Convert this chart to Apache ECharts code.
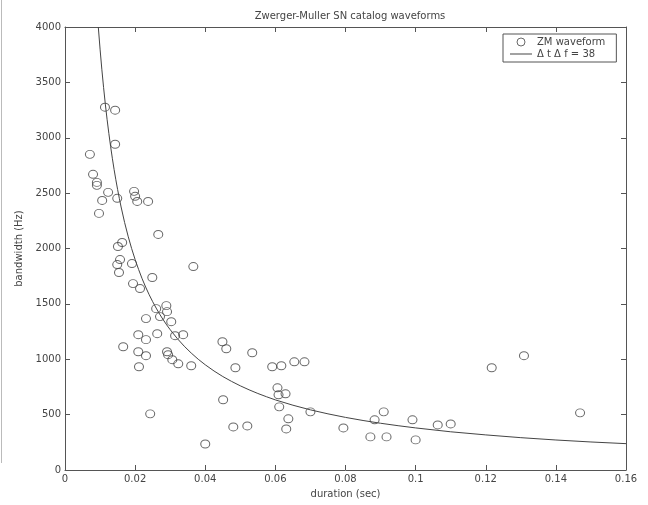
<!DOCTYPE html>
<html>
<head>
<meta charset="utf-8">
<script src="https://cdn.jsdelivr.net/npm/echarts@6/dist/echarts.min.js"></script>
<style>html,body{margin:0;padding:0;background:#fff;}#c{width:648px;height:505px;}</style>
</head>
<body>
<div id="c"></div>
<script>
// ZM waveform measurements: duration (sec), bandwidth (Hz)
const durations = [0.0071,0.0080,0.0091,0.0091,0.0097,0.0106,0.0114,0.0143,0.0143,0.0123,
  0.0149,0.0197,0.0200,0.0206,0.0237,0.0266,0.0151,0.0163,0.0157,0.0149,
  0.0154,0.0191,0.0366,0.0194,0.0214,0.0249,0.0260,0.0289,0.0291,0.0271,
  0.0231,0.0303,0.0209,0.0231,0.0263,0.0314,0.0337,0.0166,0.0209,0.0231,
  0.0291,0.0294,0.0306,0.0323,0.0360,0.0211,0.0449,0.0460,0.0534,0.0486,
  0.0451,0.0243,0.0480,0.0520,0.0400,0.0591,0.0617,0.0654,0.0683,0.0606,
  0.0609,0.0629,0.0611,0.0700,0.0637,0.0631,0.0794,0.0871,0.0917,0.0883,
  0.0909,0.0991,0.1000,0.1063,0.1100,0.1217,0.1309,0.1469];
const bandwidths = [2850,2670,2597,2570,2317,2434,3276,3249,2941,2507,
  2453,2516,2471,2425,2425,2127,2018,2054,1900,1855,
  1783,1864,1837,1683,1638,1738,1457,1484,1430,1385,
  1367,1339,1222,1177,1231,1213,1222,1113,1068,1032,
  1068,1041,996,959,941,932,1158,1095,1059,923,
  634,507,389,398,235,932,941,977,977,742,
  679,688,570,525,462,371,380,299,299,453,
  525,453,272,407,416,923,1032,516];
// reference curve Δt·Δf = 38
const curveDur = [0.0095,0.0100,0.0105,0.0110,0.0115,0.0120,0.0125,0.0130,0.0135,0.0140,
  0.0145,0.0150,0.0155,0.0160,0.0170,0.0180,0.0190,0.0200,0.0210,0.0220,
  0.0230,0.0240,0.0250,0.0260,0.0270,0.0280,0.0290,0.0300,0.0320,0.0340,
  0.0360,0.0380,0.0400,0.0425,0.0450,0.0475,0.0500,0.0525,0.0550,0.0575,
  0.0600,0.0650,0.0700,0.0750,0.0800,0.0850,0.0900,0.0950,0.1000,0.1100,
  0.1200,0.1300,0.1400,0.1500,0.1600];
const curveBw = [4000,3800,3619,3455,3304,3167,3040,2923,2815,2714,
  2621,2533,2452,2375,2235,2111,2000,1900,1810,1727,
  1652,1583,1520,1462,1407,1357,1310,1267,1188,1118,
  1056,1000,950,894,844,800,760,724,691,661,
  633,585,543,507,475,447,422,400,380,345,
  317,292,271,253,238];
const xTicks = [0,0.02,0.04,0.06,0.08,0.1,0.12,0.14,0.16];
const yTicks = [0,500,1000,1500,2000,2500,3000,3500,4000];

const FONT = 'DejaVu Sans';
const AX = '#555';
const TXT = '#444';
const chart = echarts.init(document.getElementById('c'), null, {renderer:'canvas'});
const scatterData = durations.map((d,i)=>[d,bandwidths[i]]);
const curveData = curveDur.map((d,i)=>[d,curveBw[i]]);
const axBase = {
  axisLine:{show:true,onZero:false,lineStyle:{color:AX,width:1}},
  axisTick:{show:true,inside:true,length:5,lineStyle:{color:AX}},
  splitLine:{show:false}
};
chart.setOption({
  animation:false,
  backgroundColor:'#fff',
  textStyle:{fontFamily:FONT},
  title:{text:'Zwerger-Muller SN catalog waveforms',left:345,top:6,textAlign:'center',
    textStyle:{fontFamily:FONT,fontSize:10,fontWeight:'normal',color:TXT}},
  grid:{left:65,right:22,top:27,bottom:35,containLabel:false},
  legend:{
    left:503,top:34,orient:'vertical',
    backgroundColor:'#fff',borderColor:'#555',borderWidth:1,
    padding:[3,11,3,7],itemGap:2,itemWidth:22,itemHeight:8,
    textStyle:{fontFamily:FONT,fontSize:10,color:TXT},
    data:[{name:'ZM waveform',icon:'circle',itemStyle:{color:'rgba(255,255,255,0)',borderColor:'#444',borderWidth:1}},
          {name:'Δ t Δ f = 38',icon:'path://M0,0L22,0L22,1L0,1Z',itemStyle:{color:'#444',borderWidth:0}}]
  },
  xAxis:[
    Object.assign({type:'value',min:0,max:0.16,interval:0.02,position:'bottom',
      name:'duration (sec)',nameLocation:'middle',nameGap:19,
      nameTextStyle:{fontFamily:FONT,fontSize:10,color:TXT},
      axisLabel:{fontFamily:FONT,fontSize:10,color:TXT,margin:4,
        formatter:v=>{const t=xTicks.find(x=>Math.abs(x-v)<1e-9);return t===undefined?'':String(t);}}},axBase),
    Object.assign({type:'value',min:0,max:0.16,interval:0.02,position:'top',axisLabel:{show:false}},axBase)
  ],
  yAxis:[
    Object.assign({type:'value',min:0,max:4000,interval:500,position:'left',
      name:'bandwidth (Hz)',nameLocation:'middle',nameGap:36,
      nameTextStyle:{fontFamily:FONT,fontSize:10,color:TXT},
      axisLabel:{fontFamily:FONT,fontSize:10,color:TXT,margin:4,
        formatter:v=>{const t=yTicks.find(y=>Math.abs(y-v)<1e-6);return t===undefined?'':String(t);}}},axBase),
    Object.assign({type:'value',min:0,max:4000,interval:500,position:'right',axisLabel:{show:false}},axBase)
  ],
  series:[
    {name:'ZM waveform',type:'scatter',xAxisIndex:0,yAxisIndex:0,data:scatterData,
      symbol:'circle',symbolSize:[9,8],
      itemStyle:{color:'rgba(255,255,255,0)',borderColor:'#444',borderWidth:1}},
    {name:'Δ t Δ f = 38',type:'line',xAxisIndex:0,yAxisIndex:0,data:curveData,
      smooth:false,showSymbol:false,symbol:'none',clip:true,
      itemStyle:{color:'#444'},
      lineStyle:{color:'#444',width:1}}
  ],
  graphic:[{type:'line',shape:{x1:1.5,y1:0,x2:1.5,y2:463},style:{stroke:'#bbb',lineWidth:1}}]
});
</script>
</body>
</html>
